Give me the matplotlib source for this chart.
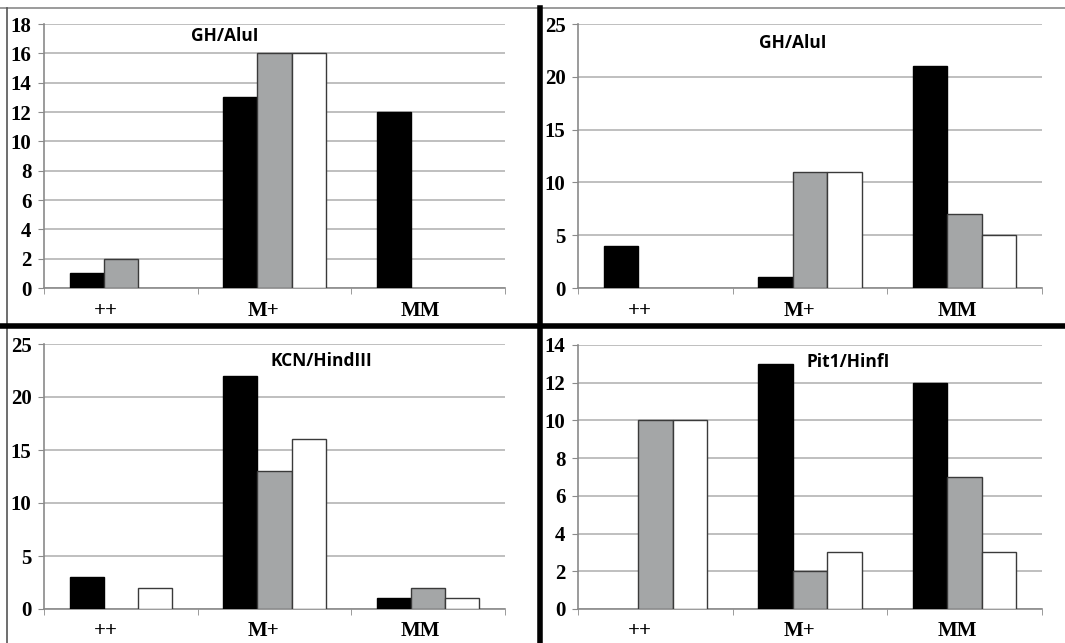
import numpy as np
import matplotlib
matplotlib.use("Agg")
import matplotlib.pyplot as plt
from matplotlib.lines import Line2D

# genotype groups and the three bar series per panel
categories = ["++", "M+", "MM"]

tl_title = "GH/AluI"
tl_black = [1, 13, 12]
tl_gray = [2, 16, 0]
tl_white = [0, 16, 0]
tl_ticks = [0, 2, 4, 6, 8, 10, 12, 14, 16, 18]

tr_title = "GH/AluI"
tr_black = [4, 1, 21]
tr_gray = [0, 11, 7]
tr_white = [0, 11, 5]
tr_ticks = [0, 5, 10, 15, 20, 25]

bl_title = "KCN/HindIII"
bl_black = [3, 22, 1]
bl_gray = [0, 13, 2]
bl_white = [2, 16, 1]
bl_ticks = [0, 5, 10, 15, 20, 25]

br_title = "Pit1/HinfI"
br_black = [0, 13, 12]
br_gray = [10, 2, 7]
br_white = [10, 3, 3]
br_ticks = [0, 2, 4, 6, 8, 10, 12, 14]

W, H = 1065, 643
fig = plt.figure(figsize=(W / 100, H / 100), dpi=100)
fig.patch.set_facecolor("white")

SERIF = ["Liberation Serif", "DejaVu Serif"]
SANS = ["Open Sans", "Liberation Sans", "DejaVu Sans"]
GRAY_BAR = "#a4a6a7"
EDGE = "#3a3a3a"
AXCOL = "#8a8a8a"


def px_axes(x0, y0, x1, y1):
    return fig.add_axes([x0 / W, 1 - y1 / H, (x1 - x0) / W, (y1 - y0) / H])


def widths(vals):
    # empty bars get no outline so they vanish into the axis line
    return [1 if v else 0 for v in vals]


def panel(ax, title, black, gray, white, ticks, title_xy):
    x = np.arange(len(categories))
    bw = 0.222
    ax.bar(x - bw, black, bw, color="black", edgecolor="black", lw=widths(black), zorder=3)
    ax.bar(x, gray, bw, color=GRAY_BAR, edgecolor=EDGE, lw=widths(gray), zorder=3)
    ax.bar(x + bw, white, bw, color="white", edgecolor=EDGE, lw=widths(white), zorder=3)
    ax.set_xlim(-0.5, 2.5)
    ax.set_ylim(0, ticks[-1])
    ax.set_yticks(ticks)
    ax.set_yticklabels([str(t) for t in ticks], fontfamily=SERIF,
                       fontweight="bold", fontsize=15)
    ax.yaxis.grid(True, color="#b4b4b4", lw=1.2, zorder=0)
    ax.set_axisbelow(True)
    # label positions sit a touch left of the group centre, like the source
    ax.set_xticks(x - np.array([0.1, 0.07, 0.05]))
    ax.set_xticklabels(categories, fontfamily=SERIF, fontweight="bold",
                       fontsize=15)
    ax.tick_params(axis="x", length=0, pad=9)
    ax.set_xticks([-0.5, 0.5, 1.5, 2.5], minor=True)
    ax.tick_params(axis="x", which="minor", length=4, color=AXCOL, direction="out")
    ax.tick_params(axis="y", length=4, color=AXCOL, pad=5)
    for s in ("top", "right"):
        ax.spines[s].set_visible(False)
    for s in ("left", "bottom"):
        ax.spines[s].set_color(AXCOL)
        ax.spines[s].set_linewidth(1.2)
    ax.text(title_xy[0], title_xy[1], title, transform=fig.transFigure,
            ha="center", va="center", fontfamily=SANS, fontweight="bold",
            fontsize=12.5)


ax1 = px_axes(44, 24, 505, 288)
panel(ax1, tl_title, tl_black, tl_gray, tl_white, tl_ticks, (225 / W, 1 - 36 / H))
ax2 = px_axes(578, 24, 1042, 288)
panel(ax2, tr_title, tr_black, tr_gray, tr_white, tr_ticks, (793 / W, 1 - 43 / H))
ax3 = px_axes(44, 344, 505, 609)
panel(ax3, bl_title, bl_black, bl_gray, bl_white, bl_ticks, (321 / W, 1 - 361 / H))
ax4 = px_axes(578, 345, 1042, 609)
panel(ax4, br_title, br_black, br_gray, br_white, br_ticks, (848 / W, 1 - 362 / H))

# frame lines between the four panels
fig.add_artist(Line2D([0.0, 1.0], [1 - 8 / H, 1 - 8 / H], transform=fig.transFigure,
                      color="#8a8a8a", lw=1.2))
fig.add_artist(Line2D([7 / W, 7 / W], [0, 1 - 8 / H], transform=fig.transFigure,
                      color="#555555", lw=1.2))
fig.add_artist(Line2D([540 / W, 540 / W], [0, 1 - 8 / H], transform=fig.transFigure,
                      color="black", lw=4))
fig.add_artist(Line2D([0, 1], [1 - 326 / H, 1 - 326 / H], transform=fig.transFigure,
                      color="black", lw=4))

fig.savefig("out.png", dpi=100, facecolor="white")
